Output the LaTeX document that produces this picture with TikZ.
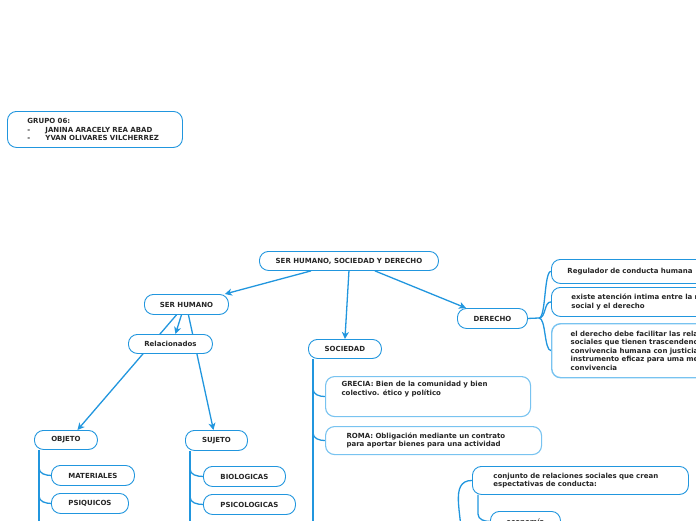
\documentclass[tikz,border=0pt]{standalone}
\usepackage{fontspec}
\setmainfont{DejaVu Sans}
\usetikzlibrary{arrows.meta,calc}
\definecolor{bl}{RGB}{33,150,222}
\definecolor{lbl}{RGB}{120,195,240}
\pgfdeclarelayer{bg}
\pgfsetlayers{bg,main}
\tikzset{
  bx/.style={draw=bl, fill=white, line width=0.9pt, rounded corners=9pt, anchor=north west,
    font=\bfseries\fontsize{7}{8.6}\selectfont, inner ysep=0pt, text=black!85},
  cbox/.style={bx, align=center},
  lbox/.style={bx, align=left},
  conn/.style={draw=bl, line width=1.3pt},
  arr/.style={conn, -{Stealth[length=7pt,width=7pt,inset=2pt]}}
}
\begin{document}
\begin{tikzpicture}[x=1pt,y=-1pt]
\useasboundingbox (0,0) rectangle (696,520);
\clip (0,0) rectangle (696,520);
% nodes
\node[lbox, minimum width=175pt, minimum height=36pt, text width=135pt, inner xsep=20pt] (grupo) at (7,111)
  {GRUPO 06:\\\makebox[18pt][l]{-}JANINA ARACELY REA ABAD\\\makebox[18pt][l]{-}YVAN OLIVARES VILCHERREZ};
\node[cbox, minimum width=179pt, minimum height=19pt] (main) at (259,251) {SER HUMANO, SOCIEDAD Y DERECHO};
\node[cbox, minimum width=84pt, minimum height=20pt] (serh) at (144,294) {SER HUMANO};
\node[cbox, minimum width=84pt, minimum height=19pt] (relac) at (128,334) {Relacionados};
\node[cbox, minimum width=73pt, minimum height=19pt] (soc) at (308,339) {SOCIEDAD};
\node[cbox, minimum width=70pt, minimum height=20pt] (der) at (457,308) {DERECHO};
\node[lbox, minimum width=170pt, minimum height=24pt, text width=150pt, inner xsep=16pt] (reg) at (551,259) {Regulador de conducta humana};
\node[lbox, minimum width=190pt, minimum height=29pt, text width=160pt, inner xsep=20pt] (exi) at (551,287) {existe atención intima entre la realidad\\social y el derecho};
\node[lbox, draw=lbl, line width=1.4pt, minimum width=200pt, minimum height=54pt, text width=170pt, inner xsep=19pt] (eld) at (551,323)
  {el derecho debe facilitar las relaciones\\sociales que tienen trascendencia en la\\convivencia humana con justicia, es un\\instrumento eficaz para uma mejor\\convivencia};
\node[bx, draw=lbl, line width=1.1pt, inner xsep=16pt, inner ysep=5pt] (gre) at (325,376)
  {\parbox[b][30pt][t]{173pt}{GRECIA: Bien de la comunidad y bien\\colectivo. ético y político}};
\node[lbox, draw=lbl, line width=1.1pt, minimum width=216pt, minimum height=28pt, text width=174pt, inner xsep=21pt] (rom) at (325,426)
  {ROMA: Obligación mediante un contrato\\para aportar bienes para una actividad};
\node[lbox, minimum width=216pt, minimum height=28pt, text width=174pt, inner xsep=21pt] (conj) at (472,466)
  {conjunto de relaciones sociales que crean\\espectativas de conducta:};
\node[cbox, minimum width=70pt, minimum height=20pt] (eco) at (490,511) {economía};
\node[cbox, minimum width=63pt, minimum height=19pt] (obj) at (34,430) {OBJETO};
\node[cbox, minimum width=62pt, minimum height=20pt] (suj) at (185,430) {SUJETO};
\node[cbox, minimum width=83pt, minimum height=20pt] (mat) at (51,465) {MATERIALES};
\node[cbox, minimum width=77pt, minimum height=20pt] (psq) at (51,493) {PSIQUICOS};
\node[cbox, minimum width=82pt, minimum height=20pt] (bio) at (203,466) {BIOLOGICAS};
\node[cbox, minimum width=92pt, minimum height=20pt] (psc) at (203,494) {PSICOLOGICAS};
% helper coordinates
\coordinate (socEnd) at (313,540);
\coordinate (objEnd) at (39,540);
\coordinate (sujEnd) at (190,540);
\coordinate (conjFrom) at (461,540);
\coordinate (derJ) at (539,318);
\begin{pgfonlayer}{bg}
  % main connectors
  \draw[arr] ([xshift=-38pt]main.south) -- ([xshift=-4pt]serh.north east);
  \draw[arr] ([xshift=0pt]main.south) -- (soc.north);
  \draw[arr] ([xshift=26pt]main.south) -- ([xshift=9pt]der.north west);
  % ser humano
  \draw[arr] ([xshift=-5pt]serh.south) -- ([xshift=5pt]relac.north);
  \draw[arr] ([xshift=-10pt]serh.south) -- ([xshift=11.5pt]obj.north);
  \draw[arr] ([xshift=2pt]serh.south) -- ([xshift=-3pt]suj.north);
  % derecho brace
  \draw[conn] (der.east) -- (derJ);
  \draw[conn] (derJ) .. controls (546,318) and (544,271) .. (reg.west);
  \draw[conn] (derJ) .. controls (546,318) and (544,301.5) .. (exi.west);
  \draw[conn] (derJ) .. controls (546,318) and (544,350) .. (eld.west);
  % sociedad
  \draw[conn] ([xshift=5pt]soc.south west) -- (socEnd);
  \draw[conn] (313,389) to[out=-90,in=180] (gre.west);
  \draw[conn] (313,433) to[out=-90,in=180] (rom.west);
  % conjunto
  \draw[conn] (conjFrom) to[out=85,in=180] (conj.west);
  \draw[conn] ([xshift=6pt]conj.south west) -- (478,514) to[out=-90,in=180] (eco.west);
  % objeto
  \draw[conn] ([xshift=5pt]obj.south west) -- (objEnd);
  \draw[conn] (39,468) to[out=-90,in=180] (mat.west);
  \draw[conn] (39,496) to[out=-90,in=180] (psq.west);
  % sujeto
  \draw[conn] ([xshift=5pt]suj.south west) -- (sujEnd);
  \draw[conn] (190,469) to[out=-90,in=180] (bio.west);
  \draw[conn] (190,497) to[out=-90,in=180] (psc.west);
\end{pgfonlayer}
\end{tikzpicture}
\end{document}
